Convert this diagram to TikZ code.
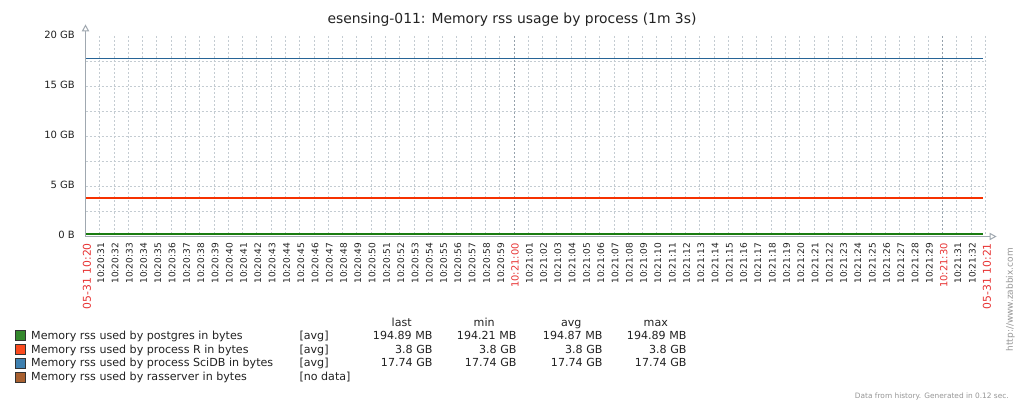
\documentclass[tikz,border=0pt]{standalone}
\usepackage{fontspec}
\setmainfont{DejaVu Sans}
\definecolor{axisgray}{RGB}{160,168,176}
\definecolor{gridgray}{RGB}{196,204,210}
\definecolor{griddark}{RGB}{150,162,172}
\definecolor{zgreen}{RGB}{26,124,17}
\definecolor{zred}{RGB}{246,49,0}
\definecolor{zblue}{RGB}{39,100,150}
\definecolor{lgreen}{RGB}{52,136,44}
\definecolor{lred}{RGB}{250,74,30}
\definecolor{lblue}{RGB}{62,128,176}
\definecolor{lbrown}{RGB}{168,96,48}
\definecolor{txt}{RGB}{34,34,34}
\definecolor{redlbl}{RGB}{232,52,52}
\definecolor{faint}{RGB}{150,150,150}
\begin{document}
\begin{tikzpicture}[x=1pt,y=-1pt,
  gridline/.style={gridgray, dash pattern=on 2pt off 2pt, line width=1pt},
  griddarkline/.style={griddark, dash pattern=on 2pt off 2pt, line width=1pt},
  axisline/.style={axisgray, line width=1pt},
  dataline/.style={line width=1.2pt},
  ylbl/.style={anchor=mid east, inner sep=0pt, text=txt, font=\fontsize{10}{12}\selectfont},
  legtxt/.style={anchor=base west, inner sep=0pt, text=txt, font=\fontsize{11.1}{13}\selectfont},
  valtxt/.style={anchor=base east, inner sep=0pt, text=txt, font=\fontsize{11.1}{13}\selectfont},
  hdrtxt/.style={anchor=base, inner sep=0pt, text=txt, font=\fontsize{11.1}{13}\selectfont},
  legbox/.style={draw=black!80, line width=0.8pt}
]
\useasboundingbox[fill=white] (0,0) rectangle (1016,404);

% title
\node[anchor=base, inner sep=0pt, text=txt, font=\fontsize{13.9}{15}\selectfont] (title) at (512,24)
  {esensing-011: Memory rss usage by process (1m 3s)};

% horizontal grid
\foreach \j in {1,...,7}{
  \draw[gridline] (85.5,236-25*\j) -- (985.5,236-25*\j);
}
% vertical grid
\foreach \k in {1,...,63}{
  \pgfmathsetmacro\xx{85.5+14.2857*\k}
  \ifnum\k=30 \draw[griddarkline] (\xx,36) -- (\xx,236);
  \else\ifnum\k=60 \draw[griddarkline] (\xx,36) -- (\xx,236);
  \else \draw[gridline] (\xx,36) -- (\xx,236);
  \fi\fi
}

% data lines
\draw[dataline, zblue] (85.5,58.6) -- (983,58.6);
\draw[dataline, zred] (85.5,198) -- (983,198);
\draw[dataline, zgreen] (85.5,234) -- (983,234);

% axes
\draw[axisline] (85.5,236.5) -- (85.5,31);
\draw[axisline, fill=white] (82.5,31) -- (85.5,25.5) -- (88.5,31) -- cycle;
\draw[axisline] (85.5,236.5) -- (990,236.5);
\draw[axisline, fill=white] (990,233.5) -- (995.5,236.5) -- (990,239.5) -- cycle;

% y labels
\node[ylbl] (y20) at (75,36) {20 GB};
\node[ylbl] (y15) at (75,86) {15 GB};
\node[ylbl] (y10) at (75,136) {10 GB};
\node[ylbl] (y5) at (75,186) {5 GB};
\node[ylbl] (y0) at (75,236) {0 B};

% time labels
\foreach \k in {1,...,62}{
  \pgfmathsetmacro\xx{86.5+14.2857*\k}
  \pgfmathtruncatemacro\ss{mod(30+\k,60)}
  \pgfmathtruncatemacro\mm{20+int((30+\k)/60)}
  \ifnum\ss<10 \edef\sstr{0\ss}\else\edef\sstr{\ss}\fi
  \def\tcol{txt}\def\tfs{9}
  \ifnum\ss=0 \def\tcol{redlbl}\def\tfs{9.9}\fi
  \ifnum\ss=30 \def\tcol{redlbl}\def\tfs{9.9}\fi
  \node[rotate=90, anchor=east, inner sep=0pt, text=\tcol, font=\fontsize{\tfs}{11}\selectfont] (t\k) at (\xx,243) {10:\mm:\sstr};
}
\node[rotate=90, anchor=east, inner sep=0pt, text=redlbl, font=\fontsize{10.8}{12}\selectfont] (tstart) at (87,243) {05-31 10:20};
\node[rotate=90, anchor=east, inner sep=0pt, text=redlbl, font=\fontsize{10.8}{12}\selectfont] (tend) at (987,243) {05-31 10:21};

% legend header
\node[hdrtxt] (hlast) at (401.7,326) {last};
\node[hdrtxt] (hmin) at (484.2,326) {min};
\node[hdrtxt] (havg) at (571.3,326) {avg};
\node[hdrtxt] (hmax) at (655.8,326) {max};

% legend rows
\draw[legbox, fill=lgreen] (15.5,330) rectangle (25.5,340);
\draw[legbox, fill=lred] (15.5,344.5) rectangle (25.5,354.5);
\draw[legbox, fill=lblue] (15.5,358.5) rectangle (25.5,368.5);
\draw[legbox, fill=lbrown] (15.5,372.5) rectangle (25.5,382.5);

\node[legtxt] (l1) at (31,339.3) {Memory rss used by postgres in bytes};
\node[legtxt] (l2) at (31,353.2) {Memory rss used by process R in bytes};
\node[legtxt] (l3) at (31,366.9) {Memory rss used by process SciDB in bytes};
\node[legtxt] (l4) at (31,380.6) {Memory rss used by rasserver in bytes};

\node[legtxt] (f1) at (299.3,339.3) {[avg]};
\node[legtxt] (f2) at (299.3,353.2) {[avg]};
\node[legtxt] (f3) at (299.3,366.9) {[avg]};
\node[legtxt] (f4) at (299.3,380.6) {[no data]};

\node[valtxt] (v11) at (432.7,339.3) {194.89 MB};
\node[valtxt] (v12) at (516.7,339.3) {194.21 MB};
\node[valtxt] (v13) at (602.7,339.3) {194.87 MB};
\node[valtxt] (v14) at (686.7,339.3) {194.89 MB};
\node[valtxt] (v21) at (432.7,353.2) {3.8 GB};
\node[valtxt] (v22) at (516.7,353.2) {3.8 GB};
\node[valtxt] (v23) at (602.7,353.2) {3.8 GB};
\node[valtxt] (v24) at (686.7,353.2) {3.8 GB};
\node[valtxt] (v31) at (432.7,366.9) {17.74 GB};
\node[valtxt] (v32) at (516.7,366.9) {17.74 GB};
\node[valtxt] (v33) at (602.7,366.9) {17.74 GB};
\node[valtxt] (v34) at (686.7,366.9) {17.74 GB};

% url and footer
\node[rotate=90, anchor=east, inner sep=0pt, text=faint, font=\fontsize{9}{10}\selectfont] (url) at (1010.5,248) {http://www.zabbix.com};
\node[anchor=base east, inner sep=0pt, text=faint, font=\fontsize{7.4}{9}\selectfont] (foot) at (1009,398.3) {Data from history. Generated in 0.12 sec.};
\end{tikzpicture}
\end{document}
